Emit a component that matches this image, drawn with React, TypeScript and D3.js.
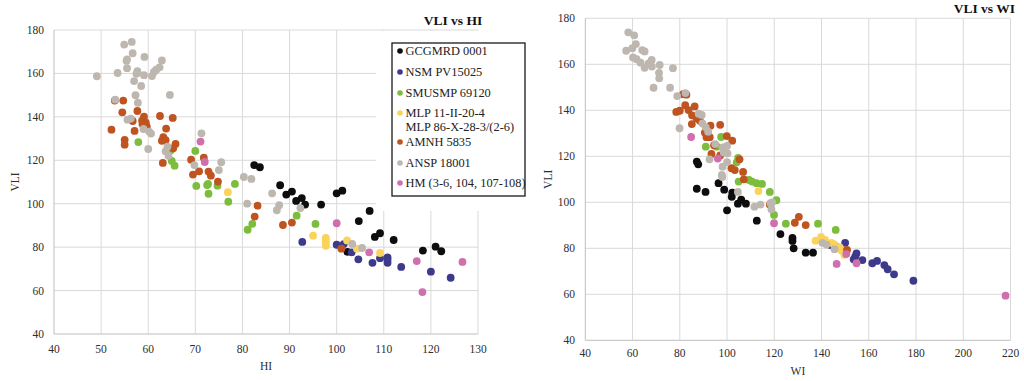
import React from "react";
import * as d3 from "d3";

// ---------- data ----------
const seriesNames = ["GCGMRD 0001", "NSM PV15025", "SMUSMP 69120", "MLP 11-II-20-4|MLP 86-X-28-3/(2-6)", "AMNH 5835", "ANSP 18001", "HM (3-6, 104, 107-108)"];
const seriesColors = ["#0d0d0d", "#3d3a8c", "#7dbd3e", "#fbd35b", "#bf5420", "#bdb7b0", "#d06fae"];

const xTicksHI = [40, 50, 60, 70, 80, 90, 100, 110, 120, 130];
const xTicksWI = [40, 60, 80, 100, 120, 140, 160, 180, 200, 220];
const yTicks = [40, 60, 80, 100, 120, 140, 160, 180];

// VLI vs HI  [HI, VLI]
const hiGCGMRD = [[82.5,117.8],[83.7,116.8],[88,108.5],[89.3,104.2],[90.5,105.6],[91.4,101.3],[92.6,102.6],[93.3,99.6],[96.7,99.6],[100,104.8],[101.2,106],[104.7,92],[107,96.7],[108.1,84.7],[109.2,86.4],[112.1,83.3],[102.3,77.8],[118.3,78.4],[121,80.2],[122.2,78.1]];
const hiNSM = [[92.7,82.4],[100,81.1],[101.5,81.4],[103.2,77.6],[104.6,74.4],[107.6,72.8],[109.2,74.9],[110.8,75.3],[110.8,74.2],[110.8,72.8],[113.7,70.9],[120,68.7],[124.2,65.9]];
const hiSMUSMP = [[57.9,128.4],[64.8,124.6],[65,119.7],[65.6,117.5],[70,124.3],[70.2,108.2],[72.5,108.6],[72.7,109.1],[72.8,104.6],[74.7,108.3],[78.4,109.1],[77,100.9],[81.1,88],[82.1,90.7],[91.5,94.5],[95.5,90.7]];
const hiMLP = [[76.9,105.3],[95,85.3],[97.7,84.2],[97.7,83],[97.7,81.7],[97.7,80.6],[102.2,83.1],[104.3,79.3],[109.2,77.3]];
const hiAMNH = [[52.9,147.5],[54.7,147.5],[54.5,142.1],[52.2,134.1],[55,129.4],[55,127.2],[57.7,142.7],[56.7,138.1],[57.1,133.5],[59.1,140.1],[58.7,138.2],[59.5,137.3],[59.7,135.5],[58.8,136.6],[62.5,140.4],[65.2,139.5],[63.8,134.6],[63.2,130.6],[62.9,129],[63.7,129.3],[65.8,127.5],[65.3,125.5],[63.1,118.8],[69.1,120.3],[71.8,121.2],[70.8,114.9],[69.5,113.4],[72.8,114.8],[73.3,112.9],[74.8,110.2],[83.2,99.1],[82.6,94.1],[88.6,90.2],[90.5,91.3],[101,79.3]];
const hiANSP = [[49.1,158.7],[54.9,173.3],[56.5,174.5],[56.7,169.3],[55.5,166.5],[55.4,165.8],[53.5,160.2],[55.5,162.4],[57.7,161],[57.5,159.8],[59.2,167.6],[59.1,159.2],[57,156.5],[58.5,154.2],[57.3,150],[57.8,146.5],[60.8,158.8],[61.2,160.7],[61.7,161.7],[62.4,162.8],[62.9,166],[64.6,150.1],[53,147.9],[55.6,138.7],[56.3,139.2],[59,134.4],[60.2,133.2],[60.6,132.3],[60,125.2],[64.1,126.3],[63.7,124.2],[64.3,122.1],[69.8,117.8],[71.3,132.4],[75,115.5],[75.5,119.1],[80.3,112.3],[81.9,111.4],[81,100],[86.3,104.8],[87.8,99.3],[87.3,97],[92.3,98],[103.3,81.5],[105.4,79.6]];
const hiHM = [[71.1,128.6],[72,119.2],[100,91],[106.9,77.6],[117,73.6],[118.2,59.3],[126.7,73.2]];

// VLI vs WI  [WI, VLI]
const wiGCGMRD = [[87.2,117.7],[87.8,116.5],[87.2,105.9],[90.9,104.5],[96.4,108.3],[98.8,105.5],[102.2,104.2],[102,102.4],[104.6,99.4],[106,101.1],[108,99.4],[100,96.5],[112.6,92],[122.6,86.2],[127.7,84.5],[127.7,83.2],[128.2,80],[133.3,78.1],[136.4,78.1]];
const wiNSM = [[143.8,81.4],[146.5,80.5],[150,82.4],[154.8,77.8],[154.3,76.4],[153.6,75.2],[157.3,74.9],[161.5,73.5],[163.5,74.5],[166.6,72.7],[168,70.9],[170.7,68.7],[178.9,65.9]];
const wiSMUSMP = [[97.5,128.4],[91,124.2],[95.7,124.2],[104.7,119.3],[104.1,117.4],[104.9,109],[109.3,109.7],[110.6,109],[112.5,108.3],[114.8,108],[118.1,104.5],[120.9,100.9],[119.9,94.5],[124.9,90.7],[138.5,90.7],[146,88]];
const wiMLP = [[113.3,104.9],[137.5,83.3],[139.8,85],[141.5,83.6],[144.2,82.4],[145.4,81.7],[147.7,80.4],[148.5,79],[149.7,77.2]];
const wiAMNH = [[81.4,147],[82.8,146.8],[82.3,142.2],[86.3,141.7],[78.5,139.3],[80,139.8],[83.7,140.1],[85.2,137.8],[87.1,136.5],[85.1,134],[88.5,135.5],[90.6,130.3],[93,133.3],[97.1,133.7],[91.3,128.3],[92.7,128.3],[99.9,128.8],[102.2,126.8],[94.5,124.8],[93.4,121],[97.1,120.4],[101.9,114.8],[103.3,114],[105.3,118.7],[106.8,113.2],[107.1,110],[118.1,99],[128.7,91.1],[130.4,93.7],[133.3,90.1],[150.8,79.3]];
const wiANSP = [[58.2,173.9],[60.7,172.6],[57.3,165.9],[59.9,167],[61.4,168.8],[64.1,166.2],[65.1,165.6],[60.2,163],[61.7,162.2],[63.4,160.7],[65.1,158.5],[66.8,160.4],[68.1,161.9],[68.2,159],[71.5,159.7],[71.2,156.3],[71.3,153.9],[68.9,149.8],[75.9,149.8],[77.1,158.3],[78.9,146.2],[82.4,147.5],[79.9,132.2],[88,138.5],[89.3,138],[89.6,134.3],[91,132.6],[92,130.7],[95,125.3],[98.2,123.9],[100,124.5],[98.6,121.6],[100.2,121.3],[92.6,118.7],[98.1,115.5],[97.8,111.9],[98,111],[100,117.5],[104.6,104.5],[111.6,98.1],[114.2,99],[118.4,99.6],[118.8,97],[119.1,100],[140.4,82.4],[142.1,81.6],[145.5,79.6]];
const wiHM = [[84.8,128.4],[96.1,119],[119.9,90.9],[146.4,73.2],[150.5,77.5],[154.8,73.5],[217.9,59.4]];

const hiSeries = [hiGCGMRD, hiNSM, hiSMUSMP, hiMLP, hiAMNH, hiANSP, hiHM];
const wiSeries = [wiGCGMRD, wiNSM, wiSMUSMP, wiMLP, wiAMNH, wiANSP, wiHM];

const FONT = "'Liberation Serif', 'Times New Roman', serif";
const GRID = "#d9d9d9";
const AXIS = "#bfbfbf";
const TXT = "#2e2e2e";

type ChartProps = {
  series: number[][][];
  xTicks: number[];
  xRange: [number, number];
  yRange: [number, number];
  xLabel: string;
  xLabelY: number;
  xTickY: number;
  yLabelX: number;
  yTickX: number;
};

function Chart(p: ChartProps) {
  const x = d3.scaleLinear().domain([p.xTicks[0], p.xTicks[p.xTicks.length - 1]]).range(p.xRange);
  const y = d3.scaleLinear().domain([40, 180]).range(p.yRange);
  const [x0, x1] = p.xRange;
  const [y0, y1] = p.yRange;
  return (
    <g>
      {yTicks.map((t) => (
        <line key={"gy" + t} x1={x0} x2={x1} y1={y(t)} y2={y(t)} stroke={t === 40 ? AXIS : GRID} strokeWidth={1} />
      ))}
      {p.xTicks.map((t, i) => (
        <line key={"gx" + t} x1={x(t)} x2={x(t)} y1={y0} y2={y1} stroke={i === 0 ? AXIS : GRID} strokeWidth={1} />
      ))}
      {yTicks.map((t) => (
        <text key={"ty" + t} x={p.yTickX} y={y(t)} dy="0.35em" textAnchor="end" fontSize={11.5} fill={TXT} fontFamily={FONT}>{t}</text>
      ))}
      {p.xTicks.map((t) => (
        <text key={"tx" + t} x={x(t)} y={p.xTickY} textAnchor="middle" fontSize={11.5} fill={TXT} fontFamily={FONT}>{t}</text>
      ))}
      <text x={(x0 + x1) / 2} y={p.xLabelY} textAnchor="middle" fontSize={11.5} fill={TXT} fontFamily={FONT}>{p.xLabel}</text>
      <text transform={`translate(${p.yLabelX},${(y0 + y1) / 2}) rotate(-90)`} dy="0.35em" textAnchor="middle" fontSize={11.5} fill={TXT} fontFamily={FONT}>VLI</text>
      {p.series.map((s, si) => (
        <g key={"s" + si}>
          {s.map((d, i) => (
            <circle key={i} cx={x(d[0])} cy={y(d[1])} r={3.9} fill={seriesColors[si]} />
          ))}
        </g>
      ))}
    </g>
  );
}

const legendRows = [51, 72, 93, 113, 142, 163, 183];

export default function App() {
  return (
    <svg width={1024} height={381} style={{ position: "absolute", left: 0, top: 0, background: "#fff" }}>
      <rect x={0} y={0} width={1024} height={381} fill="#fff" />
      <Chart series={hiSeries} xTicks={xTicksHI} xRange={[54, 478]} yRange={[334, 30]} xLabel="HI" xLabelY={370} xTickY={353} yLabelX={15} yTickX={44} />
      {/* legend background hides grid */}
      <rect x={376} y={31} width={160} height={180} fill="#fff" />
      <rect x={392} y={43} width={133} height={153} fill="#fff" stroke="#1a1a1a" strokeWidth={1.3} />
      {seriesNames.map((n, i) => {
        const lines = n.split("|");
        return (
          <g key={"lg" + i}>
            <circle cx={400} cy={legendRows[i]} r={2.8} fill={seriesColors[i]} />
            {lines.map((l, j) => (
              <text key={j} x={405.5} y={legendRows[i] + j * 14} dy="0.35em" fontSize={12.4} fill="#222" fontFamily={FONT}>{l}</text>
            ))}
          </g>
        );
      })}
      <text x={453} y={25} textAnchor="middle" fontSize={13.5} fontWeight="bold" fill="#111" fontFamily={FONT}>VLI vs HI</text>

      <Chart series={wiSeries} xTicks={xTicksWI} xRange={[585.3, 1010.5]} yRange={[340.3, 18.3]} xLabel="WI" xLabelY={375} xTickY={357} yLabelX={548} yTickX={575} />
      <text x={1015} y={13} textAnchor="end" fontSize={13.5} fontWeight="bold" fill="#111" fontFamily={FONT}>VLI vs WI</text>
    </svg>
  );
}
